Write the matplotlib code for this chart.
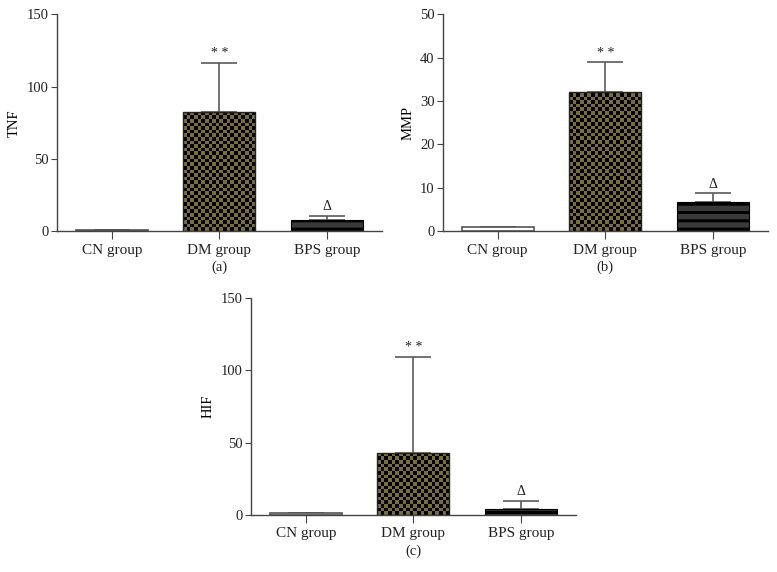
import matplotlib
matplotlib.use("Agg")
import matplotlib.pyplot as plt
import numpy as np
from matplotlib.colors import ListedColormap

plt.rcParams['font.family'] = ['Liberation Serif', 'DejaVu Serif']
plt.rcParams['hatch.linewidth'] = 2.2

# data
groups = ['CN group', 'DM group', 'BPS group']

tnf_mean = [1.0, 82.3, 7.6]
tnf_sd = [0.0, 34.3, 2.8]

mmp_mean = [1.0, 32.1, 6.8]
mmp_sd = [0.0, 6.8, 1.9]

hif_mean = [1.0, 42.9, 3.7]
hif_sd = [0.0, 66.5, 5.7]

marks = ['', '* *', '\u0394']

OLIVE = '#7b6c3c'
LINE = '#444444'


def checker_fill(ax, bar, size_px=3.6):
    # checkerboard image clipped to the bar outline
    bb = ax.get_window_extent()
    cols = int(bb.width / size_px)
    rows = int(bb.height / size_px)
    img = np.indices((rows, cols)).sum(axis=0) % 2
    xl, yl = ax.get_xlim(), ax.get_ylim()
    im = ax.imshow(img, extent=(xl[0], xl[1], yl[0], yl[1]), aspect='auto',
                   interpolation='nearest', cmap=ListedColormap([OLIVE, 'black']),
                   zorder=2.1)
    im.set_clip_path(bar)
    ax.set_xlim(xl)
    ax.set_ylim(yl)


def plot_panel(ax, means, sds, ymax, ystep, ylabel, tag):
    x = np.arange(len(groups))
    ax.set_xlim(-0.51, 2.51)
    ax.set_ylim(0, ymax)

    # CN: plain white bar
    ax.bar(x[0], means[0], width=0.67, color='white', edgecolor='#555555',
           linewidth=1.2, zorder=2)
    # DM: checkerboard bar
    dm = ax.bar(x[1], means[1], width=0.67, color=OLIVE, edgecolor='none',
                zorder=2)[0]
    checker_fill(ax, dm)
    ax.bar(x[1], means[1], width=0.67, color='none', edgecolor='#222222',
           linewidth=1.0, zorder=3)
    # BPS: dark bar with black stripes
    ax.bar(x[2], means[2], width=0.67, color='#3a3a3a', edgecolor='black',
           hatch='--', linewidth=0.8, zorder=2)

    lower = np.zeros(len(sds))
    ax.errorbar(x, means, yerr=[lower, sds], fmt='none', ecolor='#5a5a5a',
                elinewidth=1.2, capsize=13, capthick=1.2, zorder=1)

    for xi, m, s, t in zip(x, means, sds, marks):
        if t:
            ax.annotate(t, (xi, m + s), xytext=(0, 2), textcoords='offset points',
                        ha='center', va='bottom', fontsize=10, color='#222222')

    ax.set_xticks(x)
    ax.set_xticklabels(groups, fontsize=11)
    ax.set_yticks(np.arange(0, ymax + 1, ystep))
    ax.set_ylabel(ylabel, fontsize=10.5, labelpad=4)
    for side in ['top', 'right']:
        ax.spines[side].set_visible(False)
    for side in ['left', 'bottom']:
        ax.spines[side].set_color(LINE)
        ax.spines[side].set_linewidth(1.0)
    ax.tick_params(axis='both', direction='out', color=LINE,
                   labelcolor='#222222')
    ax.tick_params(axis='y', length=4, pad=2, labelsize=10.5)
    ax.tick_params(axis='x', length=6, pad=3)
    ax.text(0.5, -0.138, tag, transform=ax.transAxes, ha='center', va='top',
            fontsize=10.5, color='#222222')


fig = plt.figure(figsize=(7.77, 5.72), dpi=100)
ax1 = fig.add_axes([0.0734, 0.596, 0.418, 0.379])
ax2 = fig.add_axes([0.570, 0.596, 0.418, 0.379])
ax3 = fig.add_axes([0.323, 0.100, 0.418, 0.379])

plot_panel(ax1, tnf_mean, tnf_sd, 150, 50, 'TNF', '(a)')
plot_panel(ax2, mmp_mean, mmp_sd, 50, 10, 'MMP', '(b)')
plot_panel(ax3, hif_mean, hif_sd, 150, 50, 'HIF', '(c)')

fig.savefig('out.png', dpi=100)
